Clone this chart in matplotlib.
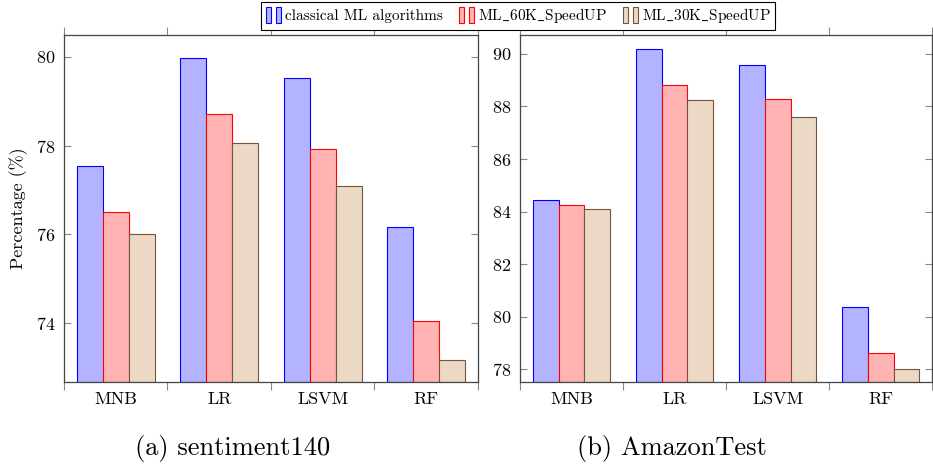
import numpy as np
import matplotlib
matplotlib.use("Agg")
import matplotlib.pyplot as plt
from matplotlib.patches import Patch
from matplotlib.legend_handler import HandlerTuple

plt.rcParams['font.family'] = ['cmr10', 'DejaVu Serif']
plt.rcParams['mathtext.fontset'] = 'cm'
plt.rcParams['axes.formatter.use_mathtext'] = True

algos = ['MNB', 'LR', 'LSVM', 'RF']
series = ['classical ML algorithms', r'ML$\_$60K$\_$SpeedUP', r'ML$\_$30K$\_$SpeedUP']

# sentiment140
sent_classical = [77.53, 79.97, 79.53, 76.17]
sent_60k = [76.51, 78.72, 77.93, 74.06]
sent_30k = [76.00, 78.05, 77.10, 73.18]

# AmazonTest
amz_classical = [84.46, 90.20, 89.59, 80.37]
amz_60k = [84.25, 88.80, 88.27, 78.61]
amz_30k = [84.11, 88.23, 87.60, 78.02]

fills = ['#b3b3ff', '#ffb3b3', '#ebd9c6']
edges = ['#0000ff', '#ff0000', '#75543a']

fig = plt.figure(figsize=(9.33, 4.69), dpi=100)
ax1 = fig.add_axes([0.0686, 0.1862, 0.4437, 0.7386])
ax2 = fig.add_axes([0.5573, 0.1862, 0.4420, 0.7386])

w = 0.25
x = np.arange(len(algos))


def draw(ax, data, ylim, yticks):
    for k, vals in enumerate(data):
        ax.bar(x + (k - 1) * w, np.array(vals) - ylim[0], w, bottom=ylim[0],
               color=fills[k], edgecolor=edges[k], linewidth=0.8, zorder=2)
    ax.set_xlim(-0.5, 3.5)
    ax.set_ylim(*ylim)
    ax.set_yticks(yticks)
    # ticks sit between the groups, names go under the group centres
    ax.set_xticks(np.arange(-0.5, 4.0, 1.0))
    ax.set_xticklabels([])
    ax.set_xticks(x, minor=True)
    ax.set_xticklabels(algos, minor=True, fontsize=13)
    ax.tick_params(axis='x', which='major', direction='out', length=6,
                   top=True, color='#888888', width=0.8)
    ax.tick_params(axis='x', which='minor', length=0, pad=7)
    ax.tick_params(axis='y', direction='in', length=5, right=True,
                   color='#888888', width=0.8, labelsize=13, pad=6)
    for s in ax.spines.values():
        s.set_color('#444444')
        s.set_linewidth(0.9)


draw(ax1, [sent_classical, sent_60k, sent_30k], (72.69, 80.48), [74, 76, 78, 80])
draw(ax2, [amz_classical, amz_60k, amz_30k], (77.53, 90.71), [78, 80, 82, 84, 86, 88, 90])

ax1.set_ylabel('Percentage (%)', fontsize=13, labelpad=6)

handles = [(Patch(facecolor=f, edgecolor=e, linewidth=0.8),
            Patch(facecolor=f, edgecolor=e, linewidth=0.8))
           for f, e in zip(fills, edges)]
leg = fig.legend(handles, series, loc='center', bbox_to_anchor=(0.5557, 0.966),
                 ncol=3, fontsize=11, frameon=True, fancybox=False,
                 edgecolor='black', framealpha=1, handlelength=1.0,
                 handleheight=1.25, handletextpad=0.25, columnspacing=1.05,
                 borderpad=0.3, borderaxespad=0,
                 handler_map={tuple: HandlerTuple(ndivide=None, pad=0.3)})
leg.get_frame().set_linewidth(0.8)

fig.text(233 / 933, 1 - 448 / 469, '(a) sentiment140', fontsize=19,
         ha='center', va='center')
fig.text(672 / 933, 1 - 448 / 469, '(b) AmazonTest', fontsize=19,
         ha='center', va='center')

fig.savefig('out.png', dpi=100)
